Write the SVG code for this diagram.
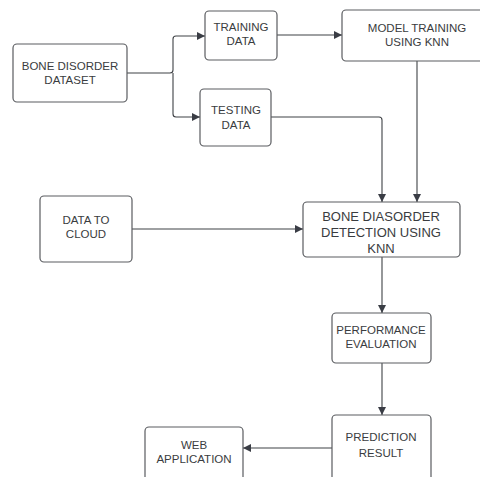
<svg xmlns="http://www.w3.org/2000/svg" width="480" height="477" viewBox="0 0 480 477">
<style>
.box{fill:#fff;stroke:#5a5c60;stroke-width:1.2}
.t{font-family:"Liberation Sans",Arial,sans-serif;font-size:11.5px;fill:#3a3c40;text-anchor:middle}
.tl{font-family:"Liberation Sans",Arial,sans-serif;font-size:13px;fill:#3a3c40;text-anchor:middle}
.c{fill:none;stroke:#3f4246;stroke-width:1.1}
</style>
<defs>
<marker id="ah" viewBox="0 0 10 10" refX="10" refY="5" markerWidth="8" markerHeight="8" markerUnits="userSpaceOnUse" orient="auto">
<path d="M0,0 L10,5 L0,10 Z" fill="#3a3d45"/>
</marker>
</defs>
<rect width="480" height="477" fill="#fff"/>
<g id="connectors">
<path class="c" d="M127,73 H170 Q173,73 173,70 V39 Q173,36 176,36 H205" marker-end="url(#ah)"/>
<path class="c" d="M173,73 V114 Q173,117 176,117 H200" marker-end="url(#ah)"/>
<path class="c" d="M277,35 H342" marker-end="url(#ah)"/>
<path class="c" d="M271,117 H379 Q382,117 382,120 V202" marker-end="url(#ah)"/>
<path class="c" d="M417,61 V202" marker-end="url(#ah)"/>
<path class="c" d="M132,229 H303" marker-end="url(#ah)"/>
<path class="c" d="M382,257 V313" marker-end="url(#ah)"/>
<path class="c" d="M382,363 V415" marker-end="url(#ah)"/>
<path class="c" d="M332,448 H243" marker-end="url(#ah)"/>
</g>
<g id="bone-disorder-dataset">
<rect class="box" x="13" y="44" width="114" height="58" rx="4"/>
<text class="t" x="70" y="70">BONE DISORDER</text>
<text class="t" x="70" y="84">DATASET</text>
</g>
<g id="training-data">
<rect class="box" x="205" y="11" width="72" height="49" rx="4"/>
<text class="t" x="241" y="31">TRAINING</text>
<text class="t" x="241" y="45">DATA</text>
</g>
<g id="testing-data">
<rect class="box" x="200" y="89" width="71" height="57" rx="4"/>
<text class="t" x="236" y="114">TESTING</text>
<text class="t" x="236" y="129">DATA</text>
</g>
<g id="model-training">
<rect class="box" x="342" y="10" width="150" height="51" rx="4"/>
<text class="t" x="417" y="32">MODEL TRAINING</text>
<text class="t" x="417" y="46">USING KNN</text>
</g>
<g id="data-to-cloud">
<rect class="box" x="40" y="196" width="92" height="66" rx="4"/>
<text class="t" x="86" y="224">DATA TO</text>
<text class="t" x="86" y="238">CLOUD</text>
</g>
<g id="detection">
<rect class="box" x="303" y="202" width="157" height="55" rx="4"/>
<text class="tl" x="381" y="221">BONE DIASORDER</text>
<text class="tl" x="381" y="237">DETECTION USING</text>
<text class="tl" x="381" y="253">KNN</text>
</g>
<g id="performance-evaluation">
<rect class="box" x="332" y="313" width="99" height="50" rx="4"/>
<text class="t" x="381" y="334">PERFORMANCE</text>
<text class="t" x="381" y="348">EVALUATION</text>
</g>
<g id="prediction-result">
<rect class="box" x="332" y="415" width="99" height="80" rx="4"/>
<text class="t" x="381" y="441">PREDICTION</text>
<text class="t" x="381" y="457">RESULT</text>
</g>
<g id="web-application">
<rect class="box" x="145" y="427" width="98" height="70" rx="4"/>
<text class="t" x="194" y="449">WEB</text>
<text class="t" x="194" y="463">APPLICATION</text>
</g>
</svg>
